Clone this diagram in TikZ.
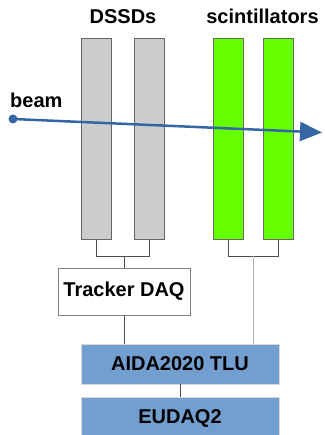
\documentclass[tikz,border=0pt]{standalone}
\usepackage{fontspec}
\setmainfont{Liberation Sans}
\usetikzlibrary{arrows.meta}
\definecolor{dssdgray}{HTML}{CCCCCC}
\definecolor{scgreen}{HTML}{66FF00}
\definecolor{boxblue}{HTML}{729FCF}
\definecolor{beamblue}{HTML}{3465A4}
\begin{document}
\begin{tikzpicture}[x=1pt,y=-1pt,
  lbl/.style={font=\bfseries\fontsize{20}{24}\selectfont, inner sep=0pt},
  det/.style={draw=black!60, line width=0.8pt, minimum width=30pt, minimum height=201pt, inner sep=0pt, anchor=north west},
  dssd/.style={det, fill=dssdgray},
  scint/.style={det, fill=scgreen},
  wire/.style={draw=black!70, line width=0.8pt},
  lightwire/.style={draw=black!30, line width=1.2pt},
  daqbox/.style={draw=black!50, line width=0.9pt, fill=white, minimum width=132pt, minimum height=47pt, inner sep=0pt, font=\bfseries\fontsize{20}{24}\selectfont},
  bluebox/.style={draw=black!15, line width=0.9pt, fill=boxblue, minimum width=198pt, inner sep=0pt, font=\bfseries\fontsize{20}{24}\selectfont},
  beamline/.style={draw=beamblue, line width=2.5pt, -{Triangle[length=22pt,width=19pt]}}
]
\useasboundingbox (0,0) rectangle (324,435);
% labels
\node[lbl, anchor=base] (ldssd) at (123,23.3) {DSSDs};
\node[lbl, anchor=base] (lscint) at (262.5,23.3) {scintillators};
\node[lbl, anchor=base west] (lbeam) at (10,107.7) {beam};
% detectors
\node[dssd] (d1) at (81,38) {};
\node[dssd] (d2) at (134,38) {};
\node[scint] (s1) at (213,38) {};
\node[scint] (s2) at (263,38) {};
% boxes
\node[daqbox] (daq) at (124,291.5) {Tracker DAQ};
\node[bluebox, minimum height=40pt] (tlu) at (180,364) {AIDA2020 TLU};
\node[bluebox, minimum height=42pt] (eudaq) at (180,418) {EUDAQ2};
% junctions
\coordinate (dj) at (124,256);
\coordinate (sj) at (253.5,256);
\draw[wire] (d1.south) |- (d2.south |- dj) -- (d2.south);
\draw[wire] (dj) -- (daq.north);
\draw[wire] (s1.south) |- (s2.south |- sj) -- (s2.south);
\draw[lightwire] (sj) -- (tlu.north -| sj);
\draw[wire] (daq.south) -- (tlu.north -| daq.south);
\draw[wire] (tlu.south) -- (eudaq.north);
% beam
\node[circle, fill=beamblue, minimum size=9pt, inner sep=0pt] (src) at (13,119) {};
\coordinate (tip) at (322,132.5);
\draw[beamline] (src.center) -- (tip);
\end{tikzpicture}
\end{document}
